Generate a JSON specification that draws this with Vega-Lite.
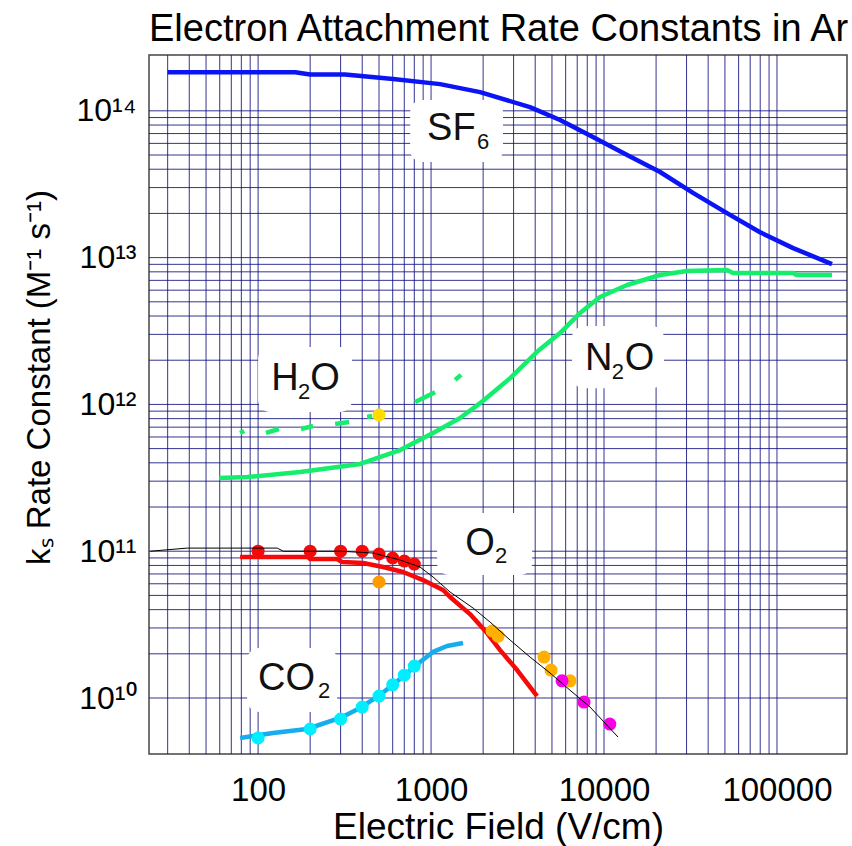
{
  "$schema": "https://vega.github.io/schema/vega-lite/v6.json",
  "width": 698,
  "height": 699,
  "autosize": {"type": "none"},
  "padding": {"left": 149, "top": 55, "right": 5, "bottom": 92},
  "background": "white",
  "config": {
    "view": {"stroke": "#444", "strokeWidth": 1.5},
    "font": "Liberation Sans",
    "axis": {"grid": false, "ticks": false, "domain": false, "labelColor": "black", "titleColor": "black", "labelFont": "Liberation Sans", "titleFont": "Liberation Sans", "titleFontWeight": "normal"}
  },
  "title": {
    "text": "Electron Attachment Rate Constants in Ar",
    "anchor": "start",
    "frame": "group",
    "fontSize": 38,
    "fontWeight": "normal",
    "font": "Liberation Sans",
    "color": "black",
    "offset": 6
  },
  "datasets": {
    "xgrid": [
      {"x": 30}, {"x": 40}, {"x": 50}, {"x": 60}, {"x": 70}, {"x": 80}, {"x": 90},
      {"x": 100}, {"x": 200}, {"x": 300}, {"x": 400}, {"x": 500}, {"x": 600}, {"x": 700}, {"x": 800}, {"x": 900},
      {"x": 1000}, {"x": 2000}, {"x": 3000}, {"x": 4000}, {"x": 5000}, {"x": 6000}, {"x": 7000}, {"x": 8000}, {"x": 9000},
      {"x": 10000}, {"x": 20000}, {"x": 30000}, {"x": 40000}, {"x": 50000}, {"x": 60000}, {"x": 70000}, {"x": 80000}, {"x": 90000},
      {"x": 100000}
    ],
    "ygrid": [
      {"y": 1e10}, {"y": 2e10}, {"y": 3e10}, {"y": 4e10}, {"y": 5e10}, {"y": 6e10}, {"y": 7e10}, {"y": 8e10}, {"y": 9e10},
      {"y": 1e11}, {"y": 2e11}, {"y": 3e11}, {"y": 4e11}, {"y": 5e11}, {"y": 6e11}, {"y": 7e11}, {"y": 8e11}, {"y": 9e11},
      {"y": 1e12}, {"y": 2e12}, {"y": 3e12}, {"y": 4e12}, {"y": 5e12}, {"y": 6e12}, {"y": 7e12}, {"y": 8e12}, {"y": 9e12},
      {"y": 1e13}, {"y": 2e13}, {"y": 3e13}, {"y": 4e13}, {"y": 5e13}, {"y": 6e13}, {"y": 7e13}, {"y": 8e13}, {"y": 9e13},
      {"y": 1e14}
    ],
    "boxes": [
      {"name": "SF6", "x": 757, "x2": 2606, "y": 1.186e14, "y2": 4.48e13},
      {"name": "H2O", "x": 100, "x2": 349, "y": 2.46e12, "y2": 8.88e11},
      {"name": "N2O", "x": 6530, "x2": 22200, "y": 3.42e12, "y2": 1.29e12},
      {"name": "O2", "x": 1084, "x2": 3840, "y": 1.82e11, "y2": 6.88e10},
      {"name": "CO2", "x": 86.4, "x2": 286, "y": 2.19e10, "y2": 8.03e9}
    ],
    "curves": [
      {"gas": "SF6", "seg": "SF6", "x": 30, "y": 1.83e14},
      {"gas": "SF6", "seg": "SF6", "x": 164, "y": 1.83e14},
      {"gas": "SF6", "seg": "SF6", "x": 200, "y": 1.77e14},
      {"gas": "SF6", "seg": "SF6", "x": 318, "y": 1.77e14},
      {"gas": "SF6", "seg": "SF6", "x": 603, "y": 1.65e14},
      {"gas": "SF6", "seg": "SF6", "x": 1127, "y": 1.52e14},
      {"gas": "SF6", "seg": "SF6", "x": 1920, "y": 1.34e14},
      {"gas": "SF6", "seg": "SF6", "x": 3730, "y": 1.06e14},
      {"gas": "SF6", "seg": "SF6", "x": 5570, "y": 8.66e13},
      {"gas": "SF6", "seg": "SF6", "x": 8630, "y": 6.63e13},
      {"gas": "SF6", "seg": "SF6", "x": 13600, "y": 5.0e13},
      {"gas": "SF6", "seg": "SF6", "x": 21100, "y": 3.83e13},
      {"gas": "SF6", "seg": "SF6", "x": 32700, "y": 2.76e13},
      {"gas": "SF6", "seg": "SF6", "x": 51400, "y": 2.01e13},
      {"gas": "SF6", "seg": "SF6", "x": 79800, "y": 1.49e13},
      {"gas": "SF6", "seg": "SF6", "x": 124000, "y": 1.16e13},
      {"gas": "SF6", "seg": "SF6", "x": 208000, "y": 9.04e12},
      {"gas": "N2O", "seg": "N2O", "x": 59.6, "y": 3.15e11},
      {"gas": "N2O", "seg": "N2O", "x": 86.4, "y": 3.2e11},
      {"gas": "N2O", "seg": "N2O", "x": 175, "y": 3.46e11},
      {"gas": "N2O", "seg": "N2O", "x": 389, "y": 3.93e11},
      {"gas": "N2O", "seg": "N2O", "x": 662, "y": 4.89e11},
      {"gas": "N2O", "seg": "N2O", "x": 1027, "y": 6.39e11},
      {"gas": "N2O", "seg": "N2O", "x": 1472, "y": 8.08e11},
      {"gas": "N2O", "seg": "N2O", "x": 1921, "y": 1.02e12},
      {"gas": "N2O", "seg": "N2O", "x": 2866, "y": 1.51e12},
      {"gas": "N2O", "seg": "N2O", "x": 4100, "y": 2.28e12},
      {"gas": "N2O", "seg": "N2O", "x": 5570, "y": 3.06e12},
      {"gas": "N2O", "seg": "N2O", "x": 7260, "y": 4.19e12},
      {"gas": "N2O", "seg": "N2O", "x": 9480, "y": 5.39e12},
      {"gas": "N2O", "seg": "N2O", "x": 13600, "y": 6.51e12},
      {"gas": "N2O", "seg": "N2O", "x": 21100, "y": 7.61e12},
      {"gas": "N2O", "seg": "N2O", "x": 30200, "y": 8.11e12},
      {"gas": "N2O", "seg": "N2O", "x": 51400, "y": 8.24e12},
      {"gas": "N2O", "seg": "N2O", "x": 55700, "y": 7.85e12},
      {"gas": "N2O", "seg": "N2O", "x": 124000, "y": 7.85e12},
      {"gas": "N2O", "seg": "N2O", "x": 130000, "y": 7.61e12},
      {"gas": "N2O", "seg": "N2O", "x": 208000, "y": 7.61e12},
      {"gas": "H2O", "seg": "H2O-1", "x": 78.7, "y": 6.39e11},
      {"gas": "H2O", "seg": "H2O-1", "x": 83.0, "y": 6.59e11},
      {"gas": "H2O", "seg": "H2O-2", "x": 111, "y": 6.39e11},
      {"gas": "H2O", "seg": "H2O-2", "x": 132, "y": 6.8e11},
      {"gas": "H2O", "seg": "H2O-3", "x": 177, "y": 6.8e11},
      {"gas": "H2O", "seg": "H2O-3", "x": 208, "y": 7.13e11},
      {"gas": "H2O", "seg": "H2O-4", "x": 279, "y": 7.35e11},
      {"gas": "H2O", "seg": "H2O-4", "x": 336, "y": 7.58e11},
      {"gas": "H2O", "seg": "H2O-5", "x": 427, "y": 8.21e11},
      {"gas": "H2O", "seg": "H2O-5", "x": 456, "y": 8.34e11},
      {"gas": "H2O", "seg": "H2O-6", "x": 809, "y": 1.04e12},
      {"gas": "H2O", "seg": "H2O-6", "x": 1055, "y": 1.21e12},
      {"gas": "H2O", "seg": "H2O-7", "x": 1377, "y": 1.47e12},
      {"gas": "H2O", "seg": "H2O-7", "x": 1490, "y": 1.59e12},
      {"gas": "O2", "seg": "O2", "x": 78.7, "y": 9.13e10},
      {"gas": "O2", "seg": "O2", "x": 194, "y": 9.13e10},
      {"gas": "O2", "seg": "O2", "x": 200, "y": 8.85e10},
      {"gas": "O2", "seg": "O2", "x": 286, "y": 8.85e10},
      {"gas": "O2", "seg": "O2", "x": 306, "y": 8.44e10},
      {"gas": "O2", "seg": "O2", "x": 405, "y": 8.31e10},
      {"gas": "O2", "seg": "O2", "x": 528, "y": 7.8e10},
      {"gas": "O2", "seg": "O2", "x": 689, "y": 7.22e10},
      {"gas": "O2", "seg": "O2", "x": 899, "y": 6.36e10},
      {"gas": "O2", "seg": "O2", "x": 1173, "y": 5.44e10},
      {"gas": "O2", "seg": "O2", "x": 1288, "y": 4.88e10},
      {"gas": "O2", "seg": "O2", "x": 1679, "y": 3.73e10},
      {"gas": "O2", "seg": "O2", "x": 2108, "y": 2.77e10},
      {"gas": "O2", "seg": "O2", "x": 2506, "y": 2.12e10},
      {"gas": "O2", "seg": "O2", "x": 3144, "y": 1.55e10},
      {"gas": "O2", "seg": "O2", "x": 4100, "y": 1.03e10},
      {"gas": "CO2", "seg": "CO2", "x": 78.7, "y": 5.34e9},
      {"gas": "CO2", "seg": "CO2", "x": 122, "y": 5.78e9},
      {"gas": "CO2", "seg": "CO2", "x": 192, "y": 6.15e9},
      {"gas": "CO2", "seg": "CO2", "x": 298, "y": 7.31e9},
      {"gas": "CO2", "seg": "CO2", "x": 389, "y": 8.55e9},
      {"gas": "CO2", "seg": "CO2", "x": 507, "y": 1.05e10},
      {"gas": "CO2", "seg": "CO2", "x": 603, "y": 1.23e10},
      {"gas": "CO2", "seg": "CO2", "x": 726, "y": 1.48e10},
      {"gas": "CO2", "seg": "CO2", "x": 864, "y": 1.76e10},
      {"gas": "CO2", "seg": "CO2", "x": 1027, "y": 2.06e10},
      {"gas": "CO2", "seg": "CO2", "x": 1237, "y": 2.26e10},
      {"gas": "CO2", "seg": "CO2", "x": 1530, "y": 2.37e10}
    ],
    "o2calc": [
      {"x": 23.8, "y": 1.0e11},
      {"x": 38.9, "y": 1.05e11},
      {"x": 129, "y": 1.05e11},
      {"x": 140, "y": 1.0e11},
      {"x": 298, "y": 1.0e11},
      {"x": 462, "y": 9.72e10},
      {"x": 662, "y": 8.71e10},
      {"x": 864, "y": 7.8e10},
      {"x": 1027, "y": 6.67e10},
      {"x": 1288, "y": 5.27e10},
      {"x": 1750, "y": 4.1e10},
      {"x": 2194, "y": 3.29e10},
      {"x": 2866, "y": 2.48e10},
      {"x": 3736, "y": 1.9e10},
      {"x": 4875, "y": 1.48e10},
      {"x": 6360, "y": 1.13e10},
      {"x": 8300, "y": 8.68e9},
      {"x": 12050, "y": 5.42e9}
    ],
    "points": [
      {"set": "O2", "x": 100, "y": 1.0e11},
      {"set": "O2", "x": 200, "y": 1.0e11},
      {"set": "O2", "x": 300, "y": 1.0e11},
      {"set": "O2", "x": 400, "y": 1.0e11},
      {"set": "O2", "x": 500, "y": 9.57e10},
      {"set": "O2", "x": 600, "y": 8.99e10},
      {"set": "O2", "x": 700, "y": 8.57e10},
      {"set": "O2", "x": 800, "y": 8.18e10},
      {"set": "H2O", "x": 500, "y": 8.47e11},
      {"set": "O2 low", "x": 500, "y": 6.17e10},
      {"set": "O2 high", "x": 2254, "y": 2.86e10},
      {"set": "O2 high", "x": 2440, "y": 2.64e10},
      {"set": "O2 high", "x": 4500, "y": 1.9e10},
      {"set": "O2 high", "x": 4940, "y": 1.55e10},
      {"set": "O2 high", "x": 6360, "y": 1.31e10},
      {"set": "O2 mag", "x": 5720, "y": 1.31e10},
      {"set": "O2 mag", "x": 7660, "y": 9.39e9},
      {"set": "O2 mag", "x": 10800, "y": 6.65e9},
      {"set": "CO2", "x": 100, "y": 5.34e9},
      {"set": "CO2", "x": 200, "y": 6.15e9},
      {"set": "CO2", "x": 300, "y": 7.19e9},
      {"set": "CO2", "x": 400, "y": 8.68e9},
      {"set": "CO2", "x": 500, "y": 1.03e10},
      {"set": "CO2", "x": 600, "y": 1.23e10},
      {"set": "CO2", "x": 700, "y": 1.43e10},
      {"set": "CO2", "x": 800, "y": 1.65e10}
    ],
    "labels": [
      {"t": "SF", "part": "main", "x": 948, "y": 6.32e13},
      {"t": "6", "part": "sub", "x": 1845, "y": 5.49e13},
      {"t": "H", "part": "main", "x": 119, "y": 1.253e12},
      {"t": "2", "part": "sub", "x": 170, "y": 1.089e12},
      {"t": "O", "part": "main", "x": 200, "y": 1.253e12},
      {"t": "N", "part": "main", "x": 7760, "y": 1.715e12},
      {"t": "2", "part": "sub", "x": 11100, "y": 1.49e12},
      {"t": "O", "part": "main", "x": 13200, "y": 1.715e12},
      {"t": "O", "part": "main", "x": 1574, "y": 9.42e10},
      {"t": "2", "part": "sub", "x": 2345, "y": 8.31e10},
      {"t": "CO", "part": "main", "x": 100, "y": 1.134e10},
      {"t": "2", "part": "sub", "x": 222, "y": 1.0e10}
    ]
  },
  "layer": [
    {
      "data": {"name": "xgrid"},
      "mark": {"type": "rule", "color": "#10107e", "strokeWidth": 1, "opacity": 0.85},
      "encoding": {
        "x": {
          "field": "x", "type": "quantitative",
          "scale": {"type": "log", "domain": [23.4, 254000], "nice": false, "zero": false},
          "axis": {
            "values": [100, 1000, 10000, 100000],
            "format": "d",
            "labelFontSize": 33,
            "labelPadding": 20,
            "labelFlush": false,
            "labelOverlap": false,
            "title": "Electric Field (V/cm)",
            "titleFontSize": 37,
            "titlePadding": 2
          }
        }
      }
    },
    {
      "data": {"name": "ygrid"},
      "mark": {"type": "rule", "color": "#10107e", "strokeWidth": 1, "opacity": 0.85},
      "encoding": {
        "y": {
          "field": "y", "type": "quantitative",
          "scale": {"type": "log", "domain": [4.155e9, 2.4e14], "nice": false, "zero": false},
          "axis": {
            "values": [1e10, 1e11, 1e12, 1e13, 1e14],
            "labelExpr": "round(log(datum.value)/LN10) == 10 ? '10¹⁰' : round(log(datum.value)/LN10) == 11 ? '10¹¹' : round(log(datum.value)/LN10) == 12 ? '10¹²' : round(log(datum.value)/LN10) == 13 ? '10¹³' : '10¹⁴'",
            "labelFontSize": 32,
            "labelPadding": 13,
            "labelFlush": false,
            "labelOverlap": false,
            "title": "kₛ Rate Constant (M⁻¹ s⁻¹)",
            "titleFontSize": 33,
            "titlePadding": 20,
            "titleY": 322
          }
        }
      }
    },
    {
      "data": {"name": "boxes"},
      "mark": {"type": "rect", "fill": "white", "cornerRadius": 12},
      "encoding": {
        "x": {"field": "x", "type": "quantitative", "scale": {"type": "log", "domain": [23.4, 254000], "nice": false, "zero": false}},
        "x2": {"field": "x2"},
        "y": {"field": "y", "type": "quantitative", "scale": {"type": "log", "domain": [4.155e9, 2.4e14], "nice": false, "zero": false}},
        "y2": {"field": "y2"}
      }
    },
    {
      "data": {"name": "curves"},
      "mark": {"type": "line", "strokeWidth": 4.5, "strokeCap": "butt", "strokeJoin": "round", "clip": true},
      "encoding": {
        "x": {"field": "x", "type": "quantitative", "scale": {"type": "log", "domain": [23.4, 254000], "nice": false, "zero": false}},
        "y": {"field": "y", "type": "quantitative", "scale": {"type": "log", "domain": [4.155e9, 2.4e14], "nice": false, "zero": false}},
        "detail": {"field": "seg", "type": "nominal"},
        "color": {
          "field": "gas", "type": "nominal", "legend": null,
          "scale": {"domain": ["SF6", "N2O", "H2O", "O2", "CO2"], "range": ["#0a14f5", "#14ee6c", "#14ee6c", "#f50a0a", "#17acee"]}
        }
      }
    },
    {
      "data": {"name": "points"},
      "mark": {"type": "circle", "size": 170, "opacity": 1},
      "encoding": {
        "x": {"field": "x", "type": "quantitative", "scale": {"type": "log", "domain": [23.4, 254000], "nice": false, "zero": false}},
        "y": {"field": "y", "type": "quantitative", "scale": {"type": "log", "domain": [4.155e9, 2.4e14], "nice": false, "zero": false}},
        "fill": {
          "field": "set", "type": "nominal", "legend": null,
          "scale": {"domain": ["O2", "H2O", "O2 low", "O2 high", "O2 mag", "CO2"], "range": ["#f50a0a", "#ffdd00", "#ff9a00", "#ffb000", "#f700e8", "#00eeff"]}
        }
      }
    },
    {
      "data": {"name": "o2calc"},
      "mark": {"type": "line", "color": "black", "strokeWidth": 1, "clip": true},
      "encoding": {
        "x": {"field": "x", "type": "quantitative", "scale": {"type": "log", "domain": [23.4, 254000], "nice": false, "zero": false}},
        "y": {"field": "y", "type": "quantitative", "scale": {"type": "log", "domain": [4.155e9, 2.4e14], "nice": false, "zero": false}}
      }
    },
    {
      "data": {"name": "labels"},
      "transform": [{"filter": "datum.part == 'main'"}],
      "mark": {"type": "text", "align": "left", "baseline": "alphabetic", "fontSize": 38, "font": "Liberation Sans", "color": "#111"},
      "encoding": {
        "x": {"field": "x", "type": "quantitative", "scale": {"type": "log", "domain": [23.4, 254000], "nice": false, "zero": false}},
        "y": {"field": "y", "type": "quantitative", "scale": {"type": "log", "domain": [4.155e9, 2.4e14], "nice": false, "zero": false}},
        "text": {"field": "t"}
      }
    },
    {
      "data": {"name": "labels"},
      "transform": [{"filter": "datum.part == 'sub'"}],
      "mark": {"type": "text", "align": "left", "baseline": "alphabetic", "fontSize": 22, "font": "Liberation Sans", "color": "#111"},
      "encoding": {
        "x": {"field": "x", "type": "quantitative", "scale": {"type": "log", "domain": [23.4, 254000], "nice": false, "zero": false}},
        "y": {"field": "y", "type": "quantitative", "scale": {"type": "log", "domain": [4.155e9, 2.4e14], "nice": false, "zero": false}},
        "text": {"field": "t"}
      }
    }
  ]
}
